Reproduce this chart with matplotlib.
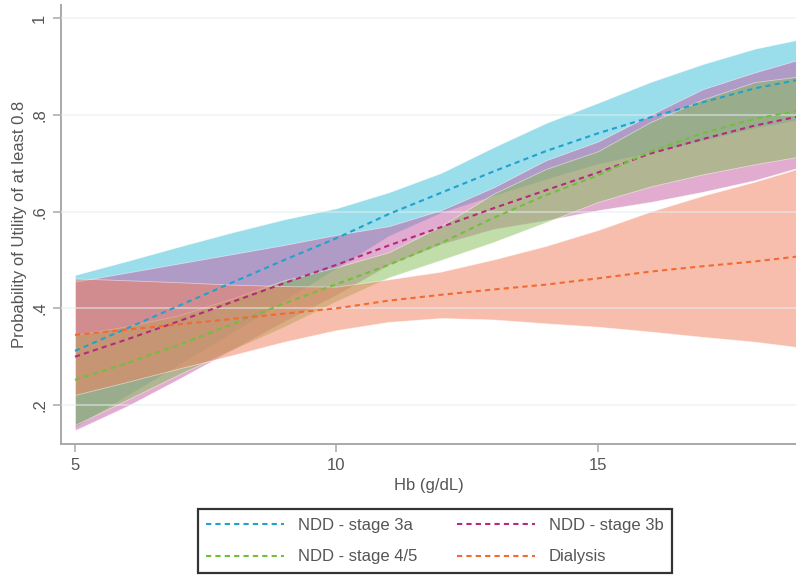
import matplotlib
matplotlib.use("Agg")
from matplotlib import pyplot as plt

plt.rcParams["font.family"] = ["Liberation Sans", "DejaVu Sans"]

# Hb grid (g/dL)
hb = [5, 6, 7, 8, 9, 10, 11, 12, 13, 14, 15, 16, 17, 18, 18.8]

# NDD - stage 3a
s3a_mean = [0.312, 0.359, 0.406, 0.453, 0.500, 0.545, 0.595, 0.639, 0.683, 0.725, 0.762, 0.795, 0.826, 0.855, 0.872]
s3a_hi = [0.469, 0.498, 0.528, 0.557, 0.584, 0.607, 0.640, 0.680, 0.733, 0.783, 0.825, 0.868, 0.905, 0.937, 0.955]
s3a_lo = [0.155, 0.220, 0.284, 0.349, 0.416, 0.483, 0.550, 0.598, 0.633, 0.667, 0.699, 0.722, 0.747, 0.773, 0.789]

# NDD - stage 3b
s3b_mean = [0.300, 0.336, 0.374, 0.413, 0.452, 0.490, 0.530, 0.568, 0.607, 0.644, 0.681, 0.720, 0.750, 0.778, 0.796]
s3b_hi = [0.455, 0.474, 0.493, 0.512, 0.531, 0.552, 0.570, 0.603, 0.650, 0.706, 0.745, 0.800, 0.853, 0.888, 0.913]
s3b_lo = [0.148, 0.198, 0.255, 0.314, 0.373, 0.428, 0.490, 0.533, 0.564, 0.582, 0.603, 0.620, 0.641, 0.665, 0.690]

# NDD - stage 4/5
s45_mean = [0.252, 0.287, 0.325, 0.367, 0.410, 0.450, 0.490, 0.535, 0.587, 0.634, 0.675, 0.724, 0.762, 0.792, 0.808]
s45_hi = [0.345, 0.363, 0.386, 0.420, 0.458, 0.485, 0.516, 0.570, 0.637, 0.688, 0.725, 0.785, 0.832, 0.868, 0.879]
s45_lo = [0.159, 0.211, 0.264, 0.314, 0.362, 0.415, 0.464, 0.500, 0.537, 0.578, 0.620, 0.652, 0.677, 0.698, 0.713]

# Dialysis
dia_mean = [0.345, 0.356, 0.367, 0.378, 0.389, 0.400, 0.416, 0.428, 0.439, 0.449, 0.462, 0.476, 0.487, 0.497, 0.507]
dia_hi = [0.462, 0.458, 0.454, 0.449, 0.446, 0.445, 0.460, 0.476, 0.501, 0.529, 0.562, 0.600, 0.633, 0.662, 0.688]
dia_lo = [0.221, 0.248, 0.276, 0.303, 0.331, 0.355, 0.372, 0.380, 0.377, 0.369, 0.362, 0.352, 0.341, 0.331, 0.320]

groups = [
    ("NDD - stage 3a", s3a_mean, s3a_lo, s3a_hi, "#1fa3cc", "#36bcd8"),
    ("NDD - stage 3b", s3b_mean, s3b_lo, s3b_hi, "#b52a7c", "#c45aa0"),
    ("NDD - stage 4/5", s45_mean, s45_lo, s45_hi, "#72bf3c", "#84bf56"),
    ("Dialysis", dia_mean, dia_lo, dia_hi, "#f26a30", "#f37f5d"),
]

fig = plt.figure(figsize=(7.96, 5.78), dpi=100)
ax = fig.add_axes([0.0766, 0.2318, 0.9234, 0.7592])

# confidence bands first, then the predicted lines on top
for name, m, lo, hi, lc, fc in groups:
    ax.fill_between(hb, lo, hi, facecolor=fc, alpha=0.5,
                    edgecolor=(1, 1, 1, 0.5), linewidth=0.6, zorder=2)

for y in [0.2, 0.4, 0.6, 0.8, 1.0]:
    ax.axhline(y, color="#e4eeee", alpha=0.6, lw=1.2, zorder=3)

handles = {}
for name, m, lo, hi, lc, fc in groups:
    h, = ax.plot(hb, m, color=lc, lw=1.5, linestyle=(0, (2.5, 2)), zorder=4, label=name)
    handles[name] = h

ax.set_xlim(4.732, 18.786)
ax.set_ylim(0.1194, 1.0269)
ax.set_xticks([5, 10, 15])
ax.set_yticks([0.2, 0.4, 0.6, 0.8, 1.0])
ax.set_yticklabels([".2", ".4", ".6", ".8", "1"], rotation=90, va="center")

for side in ["top", "right"]:
    ax.spines[side].set_visible(False)
for side in ["left", "bottom"]:
    ax.spines[side].set_color("#a8a8a8")
    ax.spines[side].set_linewidth(1.4)

ax.tick_params(axis="both", direction="out", length=6, width=1.1, color="#a8a8a8",
               labelcolor="#555555", labelsize=12, pad=4)

ax.set_xlabel("Hb (g/dL)", fontsize=12, color="#555555", labelpad=4)
ax.set_ylabel("Probability of Utility of at least 0.8", fontsize=12, color="#555555", labelpad=4)

# legend reads row-wise: 3a, 3b / 4/5, Dialysis
order = ["NDD - stage 3a", "NDD - stage 4/5", "NDD - stage 3b", "Dialysis"]
leg = fig.legend(handles=[handles[k] for k in order], loc="center",
                 bbox_to_anchor=(0.546, 0.064), ncol=2,
                 fontsize=12, frameon=True, fancybox=False, handlelength=4.7,
                 handletextpad=0.8, columnspacing=2.4, labelspacing=1.0, borderpad=0.5)
leg.get_frame().set_edgecolor("black")
leg.get_frame().set_linewidth(1.6)
for t in leg.get_texts():
    t.set_color("#555555")

fig.savefig("out.png", dpi=100)
